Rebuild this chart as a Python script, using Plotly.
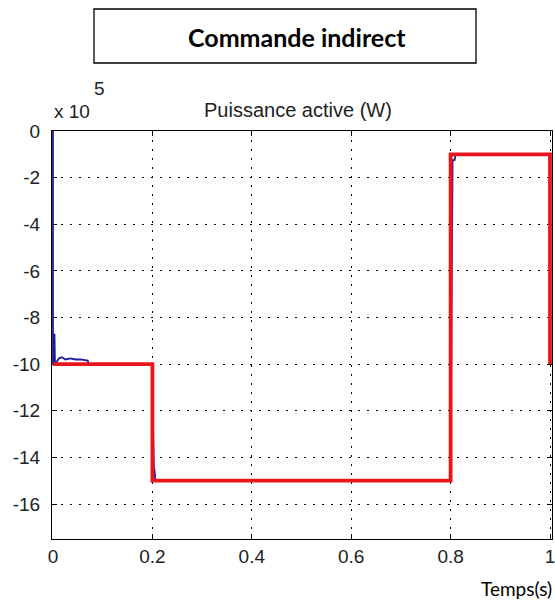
import plotly.graph_objects as go

# Measured active power (blue), time in s, power in W
meas_t = [0.0, 0.0, 0.002, 0.003, 0.004, 0.008, 0.012, 0.018, 0.025, 0.035, 0.045, 0.055, 0.065, 0.07, 0.072,
          0.199, 0.2, 0.201, 0.203, 0.205, 0.206, 0.208,
          0.799, 0.8, 0.802, 0.803, 0.804, 0.808, 0.81, 0.812, 1.0]
meas_p = [0.0, -1.0e6, -9.9e5, -8.7e5, -1.0e6, -9.85e5, -9.75e5, -9.7e5, -9.8e5, -9.75e5, -9.8e5, -9.8e5, -9.82e5, -9.85e5, -1.0e6,
          -1.0e6, -1.0e6, -1.23e6, -1.44e6, -1.47e6, -1.5e6, -1.5e6,
          -1.5e6, -1.5e6, -7.25e5, -2.3e5, -1.25e5, -1.25e5, -1.0e5, -1.0e5, -1.0e5]

# Reference power (red)
ref_t = [0.0, 0.2, 0.2, 0.8, 0.8, 1.0, 1.0]
ref_p = [-1.0e6, -1.0e6, -1.5e6, -1.5e6, -1.0e5, -1.0e5, -1.0e6]

x_ticks = [0, 0.2, 0.4, 0.6, 0.8, 1]
x_labels = ["0", "0.2", "0.4", "0.6", "0.8", "1"]
y_ticks = [0, -2e5, -4e5, -6e5, -8e5, -10e5, -12e5, -14e5, -16e5]
y_labels = ["0", "-2", "-4", "-6", "-8", "-10", "-12", "-14", "-16"]

fig = go.Figure()
fig.add_trace(go.Scatter(x=meas_t, y=meas_p, mode="lines",
                         line=dict(color="#1c1c9c", width=1.8), showlegend=False))
fig.add_trace(go.Scatter(x=ref_t, y=ref_p, mode="lines",
                         line=dict(color="#e8161c", width=3.8), showlegend=False))

tickfont = dict(family="Liberation Sans", size=19, color="#222222")
axis_common = dict(showline=True, linecolor="black", linewidth=1, mirror="ticks",
                   ticks="inside", ticklen=5, tickcolor="black",
                   showgrid=True, gridcolor="black", gridwidth=1, griddash="2px,7px",
                   zeroline=False, automargin=False, layer="below traces",
                   ticklabeloverflow="allow", tickfont=tickfont)

# plot area: x 53..551, y 131..539
W, H = 555, 605
L, R, T, B = 52, 3, 131, 66
pw, ph = W - L - R, H - T - B


def px(x):
    return (x - L) / pw


def py(y):
    return (H - B - y) / ph


fig.update_layout(
    width=W, height=H,
    margin=dict(l=L, r=R, t=T, b=B, autoexpand=False),
    paper_bgcolor="white", plot_bgcolor="white",
    font=dict(family="Liberation Sans", color="black"),
    xaxis=dict(range=[-0.002, 1.004], tickvals=x_ticks, ticktext=x_labels, **axis_common),
    yaxis=dict(range=[-1.75e6, 0], tickvals=y_ticks, ticktext=y_labels,
               ticklabelstandoff=7, **axis_common),
    shapes=[dict(type="rect", xref="paper", yref="paper",
                 x0=px(94), x1=px(476), y0=py(63), y1=py(9),
                 line=dict(color="black", width=1.3), fillcolor="white")],
    annotations=[
        dict(text="<b>Commande indirect</b>", xref="paper", yref="paper",
             x=px(297), y=py(37), xanchor="center", yanchor="middle", showarrow=False,
             font=dict(family="Lato", size=25, color="black")),
        dict(text="Puissance active (W)", xref="paper", yref="paper",
             x=px(298), y=py(110), xanchor="center", yanchor="middle", showarrow=False,
             font=dict(family="Liberation Sans", size=20, color="#222222")),
        dict(text="x 10", xref="paper", yref="paper",
             x=px(52), y=py(112), xanchor="left", yanchor="middle", showarrow=False,
             font=dict(family="Liberation Sans", size=19, color="#222222")),
        dict(text="5", xref="paper", yref="paper",
             x=px(99), y=py(89), xanchor="center", yanchor="middle", showarrow=False,
             font=dict(family="Liberation Sans", size=19, color="#222222")),
        dict(text="Temps(s)", xref="paper", yref="paper",
             x=px(554), y=py(588), xanchor="right", yanchor="middle", showarrow=False,
             font=dict(family="Lato", size=19, color="black")),
    ],
)

fig.write_html("out.html", config={"displayModeBar": False},
               post_script="document.body.style.margin='0';document.body.style.overflow='hidden';")
